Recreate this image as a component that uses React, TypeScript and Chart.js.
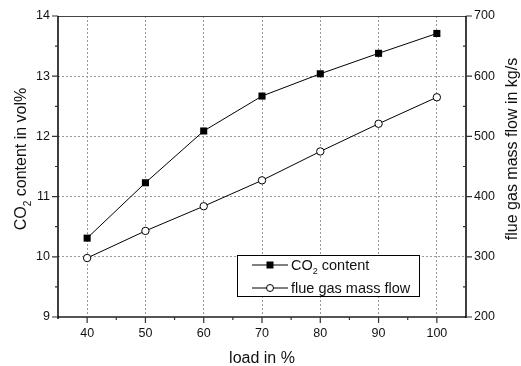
import React, { useEffect, useRef } from 'react';
import { Chart, registerables } from 'chart.js';
Chart.register(...registerables);

const loads = [40, 50, 60, 70, 80, 90, 100];
const co2Content = [10.31, 11.23, 12.09, 12.67, 13.04, 13.38, 13.71];
const flueGasFlow = [298, 343, 384, 427, 475, 521, 565];
const xTicks = [40, 50, 60, 70, 80, 90, 100];
const xMinor = [45, 55, 65, 75, 85, 95];
const leftTicks = [9, 10, 11, 12, 13, 14];
const leftMinor = [9.5, 10.5, 11.5, 12.5, 13.5];
const rightTicks = [200, 300, 400, 500, 600, 700];
const rightMinor = [250, 350, 450, 550, 650];

const FONT = '"Liberation Sans", Arial, sans-serif';
const TICK_SIZE = 12.5;

function drawSubText(ctx: CanvasRenderingContext2D, x: number, y: number, size: number, before: string, sub: string, after: string) {
  ctx.font = `${size}px ${FONT}`;
  ctx.fillText(before, x, y);
  let w = ctx.measureText(before).width;
  const subSize = Math.round(size * 0.62);
  ctx.font = `${subSize}px ${FONT}`;
  ctx.fillText(sub, x + w, y + size * 0.3);
  w += ctx.measureText(sub).width;
  ctx.font = `${size}px ${FONT}`;
  ctx.fillText(after, x + w, y);
}

function subTextWidth(ctx: CanvasRenderingContext2D, size: number, before: string, sub: string, after: string) {
  ctx.font = `${size}px ${FONT}`;
  let w = ctx.measureText(before).width + ctx.measureText(after).width;
  ctx.font = `${Math.round(size * 0.62)}px ${FONT}`;
  w += ctx.measureText(sub).width;
  return w;
}

const decorPlugin = {
  id: 'decor',
  afterDraw(chart: any) {
    const ctx: CanvasRenderingContext2D = chart.ctx;
    const { left, right, top, bottom } = chart.chartArea;
    const xs = chart.scales.x;
    const yl = chart.scales.y;
    const yr = chart.scales.y1;
    ctx.save();
    // frame
    ctx.strokeStyle = '#444';
    ctx.lineWidth = 1;
    ctx.beginPath();
    ctx.moveTo(left, top + 0.5);
    ctx.lineTo(right, top + 0.5);
    ctx.stroke();
    ctx.strokeStyle = '#555';
    ctx.lineWidth = 2;
    ctx.beginPath();
    ctx.moveTo(left, bottom);
    ctx.lineTo(right, bottom);
    ctx.stroke();
    ctx.strokeStyle = '#000';
    ctx.lineWidth = 1.5;
    ctx.beginPath();
    ctx.moveTo(left, top);
    ctx.lineTo(left, bottom + 2);
    ctx.moveTo(right, top);
    ctx.lineTo(right, bottom + 1);
    ctx.stroke();

    // ticks
    ctx.strokeStyle = '#333';
    ctx.lineWidth = 1.2;
    ctx.beginPath();
    leftTicks.forEach(v => { const y = yl.getPixelForValue(v); ctx.moveTo(left - 6, y); ctx.lineTo(left, y); });
    leftMinor.forEach(v => { const y = yl.getPixelForValue(v); ctx.moveTo(left - 3, y); ctx.lineTo(left, y); });
    xTicks.forEach(v => { const x = xs.getPixelForValue(v); ctx.moveTo(x, bottom); ctx.lineTo(x, bottom + 6); });
    xMinor.forEach(v => { const x = xs.getPixelForValue(v); ctx.moveTo(x, bottom); ctx.lineTo(x, bottom + 3); });
    rightTicks.forEach(v => { const y = yr.getPixelForValue(v); ctx.moveTo(right, y); ctx.lineTo(right + 6, y); });
    rightMinor.forEach(v => { const y = yr.getPixelForValue(v); ctx.moveTo(right - 3, y); ctx.lineTo(right, y); });
    ctx.stroke();

    // axis titles
    ctx.fillStyle = '#111';
    ctx.textBaseline = 'alphabetic';
    ctx.textAlign = 'left';
    const tSize = 16;
    ctx.font = `${tSize}px ${FONT}`;
    const xt = 'load in %';
    const xtw = ctx.measureText(xt).width;
    ctx.fillText(xt, (left + right) / 2 - xtw / 2, 363);

    // left title
    ctx.save();
    ctx.translate(26, 159);
    ctx.rotate(-Math.PI / 2);
    const lw = subTextWidth(ctx, tSize, 'CO', '2', ' content in vol%');
    drawSubText(ctx, -lw / 2, 0, tSize, 'CO', '2', ' content in vol%');
    ctx.restore();

    // right title
    ctx.save();
    ctx.translate(517, 149);
    ctx.rotate(-Math.PI / 2);
    ctx.font = `${tSize}px ${FONT}`;
    const rt = 'flue gas mass flow in kg/s';
    const rtw = ctx.measureText(rt).width;
    ctx.fillText(rt, -rtw / 2, 0);
    ctx.restore();

    // legend
    const bx = 237.5, by = 255.5, bw = 182, bh = 41;
    ctx.fillStyle = '#fff';
    ctx.fillRect(bx, by, bw, bh);
    ctx.strokeStyle = '#000';
    ctx.lineWidth = 1;
    ctx.strokeRect(bx, by, bw, bh);
    const r1 = 265, r2 = 288;
    ctx.beginPath();
    ctx.moveTo(252, r1); ctx.lineTo(288, r1);
    ctx.moveTo(252, r2); ctx.lineTo(288, r2);
    ctx.stroke();
    ctx.fillStyle = '#000';
    ctx.fillRect(270 - 3.5, r1 - 3.5, 7, 7);
    ctx.beginPath();
    ctx.arc(270, r2, 3.5, 0, Math.PI * 2);
    ctx.fillStyle = '#fff';
    ctx.fill();
    ctx.stroke();
    ctx.fillStyle = '#111';
    const lSize = 14.5;
    drawSubText(ctx, 291, r1 + 5, lSize, 'CO', '2', ' content');
    ctx.font = `${lSize}px ${FONT}`;
    ctx.fillText('flue gas mass flow', 291, r2 + 5);
    ctx.restore();
  },
};

export default function App() {
  const ref = useRef<HTMLCanvasElement | null>(null);
  useEffect(() => {
    document.body.style.margin = '0';
    const canvas = ref.current!;
    const chart = new Chart(canvas, {
      type: 'scatter',
      data: {
        datasets: [
          {
            label: 'CO2 content',
            data: loads.map((x, i) => ({ x, y: co2Content[i] })),
            yAxisID: 'y',
            showLine: true,
            borderColor: '#000',
            borderWidth: 1,
            backgroundColor: '#000',
            pointStyle: 'rect',
            pointRadius: 5,
            pointBorderWidth: 0,
          },
          {
            label: 'flue gas mass flow',
            data: loads.map((x, i) => ({ x, y: flueGasFlow[i] })),
            yAxisID: 'y1',
            showLine: true,
            borderColor: '#000',
            borderWidth: 1,
            backgroundColor: '#fff',
            pointStyle: 'circle',
            pointRadius: 3.7,
            pointBorderWidth: 1,
          },
        ],
      },
      options: {
        responsive: false,
        animation: false,
        devicePixelRatio: 1,
        layout: { padding: { top: 16, left: 0, right: 0, bottom: 0 } },
        plugins: { legend: { display: false }, tooltip: { enabled: false } },
        scales: {
          x: {
            type: 'linear',
            min: 35,
            max: 105,
            afterBuildTicks: (s: any) => { s.ticks = xTicks.map(v => ({ value: v })); },
            afterFit: (s: any) => { s.height = 49; },
            ticks: { font: { size: TICK_SIZE, family: FONT }, color: '#111', padding: 9 },
            grid: { color: '#999', lineWidth: 1, drawTicks: false },
            border: { display: false, dash: [2, 2] },
          },
          y: {
            type: 'linear',
            position: 'left',
            min: 9,
            max: 14,
            afterBuildTicks: (s: any) => { s.ticks = leftTicks.map(v => ({ value: v })); },
            afterFit: (s: any) => { s.width = 58; },
            ticks: { font: { size: TICK_SIZE, family: FONT }, color: '#111', padding: 8 },
            grid: {
              color: (c: any) => (c.tick && (c.tick.value === 9 || c.tick.value === 14) ? 'rgba(0,0,0,0)' : '#999'),
              lineWidth: 1,
              drawTicks: false,
            },
            border: { display: false, dash: [2, 2] },
          },
          y1: {
            type: 'linear',
            position: 'right',
            min: 200,
            max: 700,
            afterBuildTicks: (s: any) => { s.ticks = rightTicks.map(v => ({ value: v })); },
            afterFit: (s: any) => { s.width = 55; },
            ticks: { font: { size: TICK_SIZE, family: FONT }, color: '#111', padding: 8 },
            grid: { display: false, drawTicks: false },
            border: { display: false },
          },
        },
      },
      plugins: [decorPlugin],
    } as any);
    return () => chart.destroy();
  }, []);
  return <canvas ref={ref} width={521} height={366} style={{ display: 'block', width: 521, height: 366 }} />;
}
